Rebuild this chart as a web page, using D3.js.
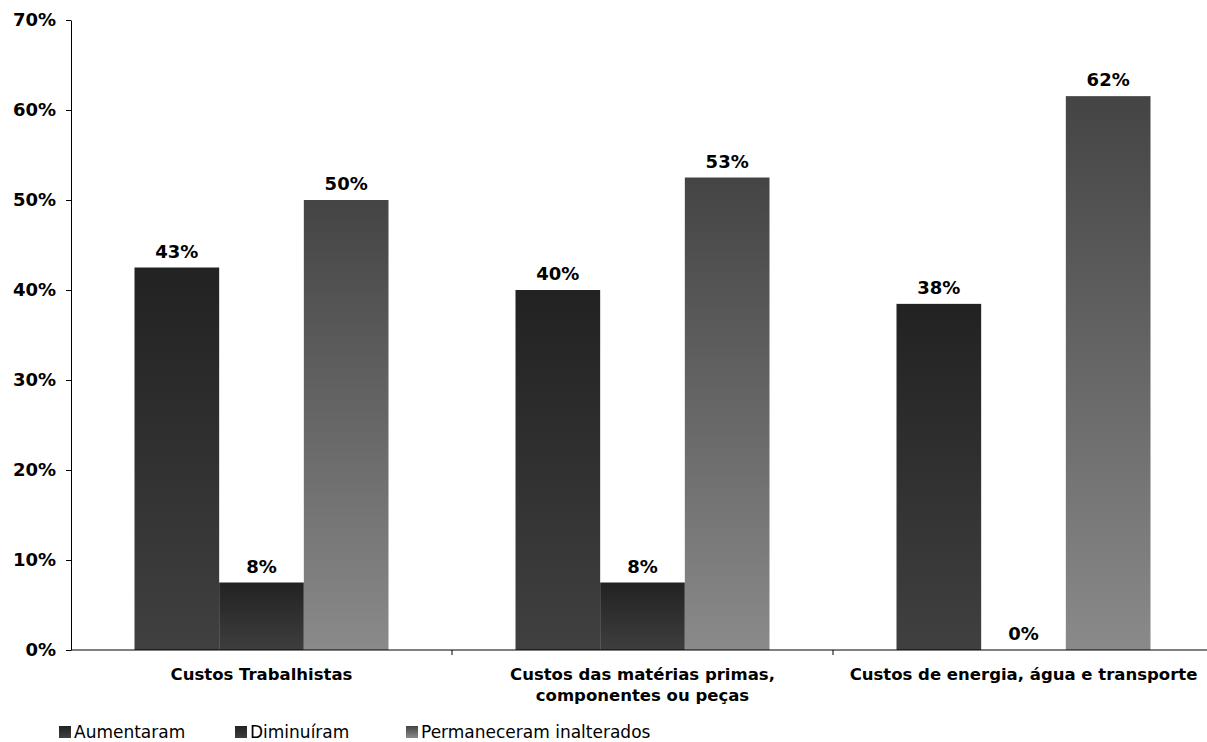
<!DOCTYPE html>
<html>
<head>
<meta charset="utf-8">
<script src="https://cdn.jsdelivr.net/npm/d3@7/dist/d3.min.js"></script>
<style>
  body { margin: 0; background: #fff; }
  svg { display: block; font-family: "DejaVu Sans", Verdana, sans-serif; }
</style>
</head>
<body>
<div id="graph"></div>
<script>
const width = 1207, height = 742;
const margin = {left: 71, top: 20, bottom: 92};

const categories = ["Custos Trabalhistas", "Custos das matérias primas,\ncomponentes ou peças", "Custos de energia, água e transporte"];
const series = ["Aumentaram", "Diminuíram", "Permaneceram inalterados"];
const aumentaram = [42.5, 40, 38.46];
const diminuiram = [7.5, 7.5, 0];
const permaneceram = [50, 52.5, 61.54];
const yTicks = [0, 10, 20, 30, 40, 50, 60, 70];

const values = [aumentaram, diminuiram, permaneceram];
const gradients = [["#222222", "#404040"], ["#222222", "#3e3e3e"], ["#444444", "#8a8a8a"]];

const svg = d3.select("#graph").append("svg").
attr("width", width).
attr("height", height);

const defs = svg.append("defs");
gradients.forEach((g, i) => {
  const lg = defs.append("linearGradient").
  attr("id", "grad" + i).
  attr("x1", 0).attr("y1", 0).attr("x2", 0).attr("y2", 1);
  lg.append("stop").attr("offset", "0%").attr("stop-color", g[0]);
  lg.append("stop").attr("offset", "100%").attr("stop-color", g[1]);
});

const groupWidth = 381;
const x0 = d3.scaleBand().
domain(categories).
range([margin.left, margin.left + groupWidth * categories.length]).
padding(0);
const x1 = d3.scaleBand().
domain(series).
range([0, x0.bandwidth()]).
paddingInner(0).
paddingOuter(0.75);
const y = d3.scaleLinear().
domain([0, 70]).
range([height - margin.bottom, margin.top]);

// bars
categories.forEach((c, ci) => {
  const g = svg.append("g").attr("transform", "translate(" + x0(c) + ",0)");
  series.forEach((s, si) => {
    const v = values[si][ci];
    if (v > 0) {
      g.append("rect").
      attr("x", x1(s)).
      attr("y", y(v)).
      attr("width", x1.bandwidth()).
      attr("height", y(0) - y(v)).
      attr("fill", "url(#grad" + si + ")");
    }
    g.append("text").
    attr("x", x1(s) + x1.bandwidth() / 2).
    attr("y", y(v) - 10).
    attr("text-anchor", "middle").
    attr("font-weight", "bold").
    attr("font-size", "18px").
    text(Math.round(v) + "%");
  });
});

// y axis
const yAxis = svg.append("g").
attr("transform", "translate(" + margin.left + ",0)").
call(d3.axisLeft(y).tickValues(yTicks).tickFormat(d => d + "%").tickSize(5).tickSizeOuter(0));
yAxis.select(".domain").attr("stroke", "#000");
yAxis.selectAll("text").
attr("font-size", "18px").
attr("font-weight", "bold").
attr("font-family", "DejaVu Sans, Verdana, sans-serif").
attr("fill", "#000").
attr("x", -15);

// x axis
const xAxis = svg.append("g").
attr("transform", "translate(0," + y(0) + ")");
xAxis.append("line").
attr("x1", margin.left).attr("x2", width).
attr("y1", 0).attr("y2", 0).
attr("stroke", "#000");
xAxis.selectAll("line.tick").
data(categories.slice(1)).
enter().
append("line").
attr("class", "tick").
attr("x1", d => x0(d)).attr("x2", d => x0(d)).
attr("y1", 0).attr("y2", 5).
attr("stroke", "#000");

categories.forEach(c => {
  const lines = c.split("\n");
  const t = svg.append("text").
  attr("x", x0(c) + x0.bandwidth() / 2).
  attr("y", y(0) + 30).
  attr("text-anchor", "middle").
  attr("font-weight", "bold").
  attr("font-size", "16.5px");
  lines.forEach((l, i) => {
    t.append("tspan").
    attr("x", x0(c) + x0.bandwidth() / 2).
    attr("dy", i === 0 ? 0 : 21).
    text(l);
  });
});

// legend
const legendPos = [59, 235, 406];
const legend = svg.append("g");
series.forEach((s, i) => {
  const lg = legend.append("g").attr("transform", "translate(" + legendPos[i] + ",726)");
  lg.append("rect").
  attr("width", 12).attr("height", 12).
  attr("fill", "url(#grad" + i + ")");
  lg.append("text").
  attr("x", 15).
  attr("y", 11.5).
  attr("font-size", "17px").
  text(s);
});
</script>
</body>
</html>
